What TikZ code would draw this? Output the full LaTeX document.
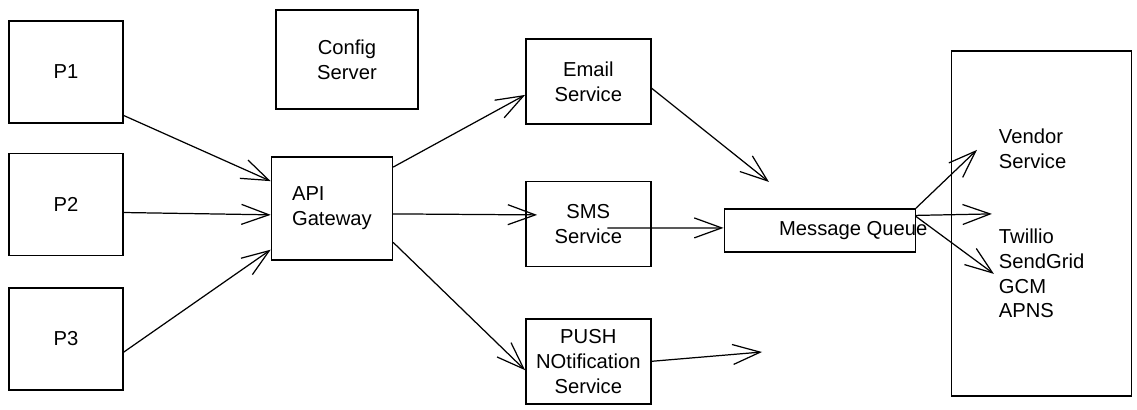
\documentclass[tikz,border=0pt]{standalone}
\usepackage{fontspec}
\setmainfont{Liberation Sans}
\usetikzlibrary{arrows.meta, positioning}

\begin{document}
\begin{tikzpicture}[
			font=\fontsize{11.5}{14.2}\selectfont,
			box/.style={draw, line width=0.8pt, align=center, inner sep=2pt},
			pbox/.style={box, minimum width=2.28cm, minimum height=2.04cm},
			svcbox/.style={box, minimum width=2.5cm, minimum height=1.7cm},
			arrow/.style={-{Straight Barb[length=5.5mm, width=4mm]}, line width=0.7pt}
			]
			\useasboundingbox (0,0) rectangle (22.74,-8.2);
			
			% --- Producers ---
			\node[pbox] (p1) at (1.32,-1.44) {P1};
			\node[pbox, below=0.58cm of p1] (p2) {P2};
			\node[pbox, below=0.62cm of p2] (p3) {P3};
			
			% --- Gateway and config ---
			\node[box, minimum width=2.42cm, minimum height=2.06cm, align=left, right=2.94cm of p2, yshift=-0.08cm] (api) {API\\Gateway};
			\node[box, minimum width=2.84cm, minimum height=1.98cm] (config) at (6.94,-1.19) {Config\\Server};
			
			% --- Services ---
			\node[svcbox, right=2.64cm of api, yshift=-0.31cm] (sms) {SMS\\Service};
			\node[svcbox, above=1.12cm of sms] (email) {Email\\Service};
			\node[svcbox, below=1.02cm of sms] (push) {PUSH\\NOtification\\Service};
			
			% --- Queue and vendors ---
			\node[box, minimum width=3.82cm, minimum height=0.86cm, right=1.44cm of sms, yshift=-0.13cm,
				label={[xshift=0.67cm]center:Message Queue}] (mq) {};
			\node[box, minimum width=3.6cm, minimum height=6.9cm, align=left, right=0.7cm of mq, yshift=0.14cm] (vendor)
				{Vendor\\Service\\[28.4pt]Twillio\\SendGrid\\GCM\\APNS};
			
			\coordinate (mqin) at (15.38,-3.64);
			\coordinate (pushout) at (15.24,-7.04);
			
			% --- Arrows ---
			\draw[arrow] (p1.-37) -- (api.156);
			\draw[arrow] (p2.-8) -- (api.186);
			\draw[arrow] (p3.-13) -- (api.214);
			
			\draw[arrow] (api.34) -- (email.192);
			\draw[arrow] ([yshift=-0.11cm]api.east) -- ([xshift=0.24cm, yshift=0.18cm]sms.west);
			\draw[arrow] (api.-29) -- (push.188);
			
			\draw[arrow] (email.-6) -- (mqin);
			\draw[arrow] ([xshift=0.38cm, yshift=-0.08cm]sms.center) -- ([yshift=0.05cm]mq.west);
			\draw[arrow] (push.east) -- (pushout);
			
			\draw[arrow] (mq.north east) -- ([xshift=0.52cm, yshift=1.47cm]vendor.west);
			\draw[arrow] ([yshift=0.3cm]mq.east) -- ([xshift=0.82cm, yshift=0.19cm]vendor.west);
			\draw[arrow] ([yshift=0.28cm]mq.east) -- ([xshift=0.86cm, yshift=-1.01cm]vendor.west);
			
	\end{tikzpicture}
\end{document}
